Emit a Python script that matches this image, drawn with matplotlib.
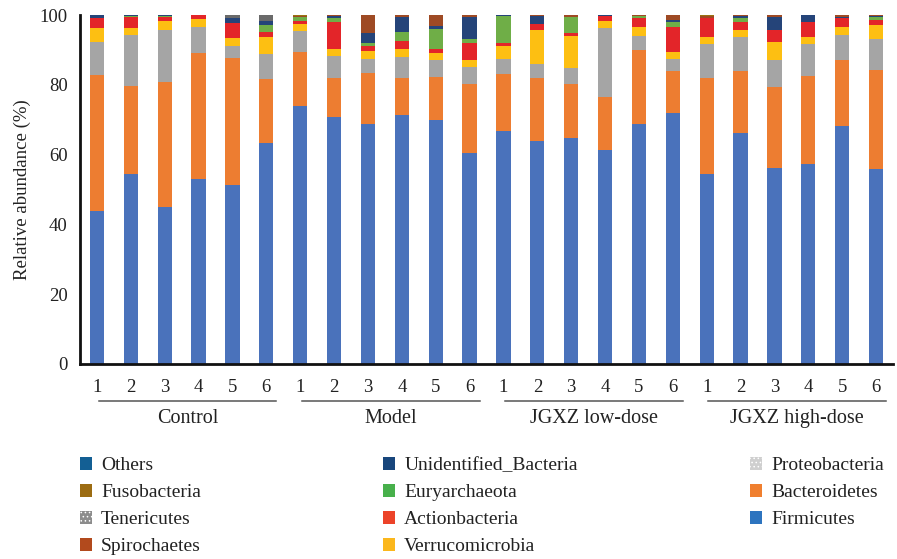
import matplotlib
matplotlib.use("Agg")
import matplotlib.pyplot as plt
from matplotlib.patches import Patch
from matplotlib.transforms import blended_transform_factory
import numpy as np

plt.rcParams["font.family"] = ["Liberation Serif", "DejaVu Serif"]
plt.rcParams["hatch.linewidth"] = 0.6

groups = ["Control", "Model", "JGXZ low-dose", "JGXZ high-dose"]
samples = ["1", "2", "3", "4", "5", "6"]

# relative abundance (%) per phylum, 24 samples (6 per group)
firmicutes = [43.8, 54.4, 45.1, 52.9, 51.3, 63.2,
              74.0, 70.8, 68.8, 71.3, 70.0, 60.5,
              66.8, 63.9, 64.8, 61.3, 68.8, 72.0,
              54.5, 66.1, 56.1, 57.4, 68.1, 55.9]
bacteroidetes = [39.0, 25.3, 35.8, 36.3, 36.3, 18.5,
                 15.3, 11.1, 14.7, 10.6, 12.3, 19.6,
                 16.3, 18.0, 15.4, 15.1, 21.2, 12.0,
                 27.5, 17.9, 23.2, 25.2, 18.9, 28.3]
proteobacteria = [9.6, 14.6, 14.8, 7.3, 3.6, 7.0,
                  6.2, 6.4, 3.9, 6.0, 4.7, 4.9,
                  4.2, 4.1, 4.5, 19.8, 4.1, 3.4,
                  9.7, 9.8, 7.8, 9.1, 7.3, 8.9]
verrucomicrobia = [4.0, 2.1, 2.7, 2.3, 2.1, 4.9,
                   1.8, 2.0, 2.4, 2.4, 2.0, 2.0,
                   3.8, 9.7, 9.3, 2.1, 2.6, 2.1,
                   1.9, 1.9, 5.3, 2.1, 2.2, 4.0]
actionbacteria = [2.8, 3.1, 0.9, 1.2, 4.3, 1.5,
                  1.1, 7.8, 1.4, 2.3, 1.4, 5.1,
                  0.8, 1.6, 0.8, 1.4, 2.3, 7.0,
                  5.6, 2.4, 3.3, 4.1, 2.7, 1.5]
euryarchaeota = [0.0, 0.2, 0.3, 0.0, 0.0, 2.0,
                 0.9, 1.1, 0.9, 2.5, 5.7, 0.9,
                 7.8, 0.0, 4.7, 0.0, 0.6, 1.6,
                 0.0, 0.9, 0.0, 0.0, 0.0, 0.9]
unidentified = [0.8, 0.3, 0.4, 0.0, 1.4, 1.3,
                0.2, 0.6, 2.7, 4.4, 0.7, 6.5,
                0.2, 2.5, 0.0, 0.3, 0.2, 0.5,
                0.0, 0.7, 3.8, 2.1, 0.3, 0.3]
spirochaetes = [0.0, 0.0, 0.0, 0.0, 0.0, 0.0,
                0.3, 0.2, 5.2, 0.5, 3.2, 0.5,
                0.1, 0.2, 0.5, 0.0, 0.2, 1.4,
                0.5, 0.3, 0.5, 0.0, 0.5, 0.2]
tenericutes = [0.0, 0.0, 0.0, 0.0, 1.0, 1.6,
               0.0, 0.0, 0.0, 0.0, 0.0, 0.0,
               0.0, 0.0, 0.0, 0.0, 0.0, 0.0,
               0.0, 0.0, 0.0, 0.0, 0.0, 0.0]
fusobacteria = [0.0, 0.0, 0.0, 0.0, 0.0, 0.0,
                0.2, 0.0, 0.0, 0.0, 0.0, 0.0,
                0.0, 0.0, 0.0, 0.0, 0.0, 0.0,
                0.3, 0.0, 0.0, 0.0, 0.0, 0.0]
others = [0.0] * 24

# bottom -> top
layers = [
    ("Firmicutes", firmicutes, "#4a72bb"),
    ("Bacteroidetes", bacteroidetes, "#ed7d31"),
    ("Proteobacteria", proteobacteria, "#a5a5a5"),
    ("Verrucomicrobia", verrucomicrobia, "#fdbf12"),
    ("Actionbacteria", actionbacteria, "#e32529"),
    ("Euryarchaeota", euryarchaeota, "#6fae47"),
    ("Unidentified_Bacteria", unidentified, "#254479"),
    ("Spirochaetes", spirochaetes, "#9e4a24"),
    ("Tenericutes", tenericutes, "#6a6a6a"),
    ("Fusobacteria", fusobacteria, "#9a7312"),
    ("Others", others, "#1f6797"),
]
legend_look = {
    "Firmicutes": ("#2d74bf", None),
    "Bacteroidetes": ("#f07f2f", None),
    "Proteobacteria": ("#cfcfcf", "...."),
    "Verrucomicrobia": ("#fbb71c", None),
    "Actionbacteria": ("#ec4329", None),
    "Euryarchaeota": ("#47b04b", None),
    "Unidentified_Bacteria": ("#18467c", None),
    "Spirochaetes": ("#b24a1d", None),
    "Tenericutes": ("#8c8c8c", "...."),
    "Fusobacteria": ("#9c6c12", None),
    "Others": ("#135f94", None),
}

fig = plt.figure(figsize=(8.97, 5.59), dpi=100)
ax = fig.add_axes([80 / 897, 1 - 364 / 559, 813 / 897, 349 / 559])

x = np.arange(len(firmicutes))
bottom = np.zeros(len(x))
for name, vals, color in layers:
    vals = np.array(vals)
    ax.bar(x, vals, width=0.42, bottom=bottom, color=color,
           edgecolor="none", label=name)
    bottom += vals

ax.set_xlim(-0.5, 23.5)
ax.set_ylim(0, 100)
ax.set_yticks(range(0, 101, 20))
ax.set_xticks(x)
ax.set_xticklabels(samples * 4)
ax.tick_params(axis="both", length=0, labelsize=13.5, colors="#222222")
ax.tick_params(axis="x", pad=11)
ax.tick_params(axis="y", pad=9)
for s in ["top", "right"]:
    ax.spines[s].set_visible(False)
for s in ["left", "bottom"]:
    ax.spines[s].set_linewidth(2)
    ax.spines[s].set_color("#111111")
ax.set_ylabel("Relative abundance (%)", fontsize=13.5, labelpad=6, color="#222222")

trans = blended_transform_factory(ax.transData, ax.transAxes)
for g, name in enumerate(groups):
    x0 = g * 6 + 0.05
    x1 = g * 6 + 5.3
    ax.plot([x0, x1], [-0.105, -0.105], transform=trans, color="#555555",
            lw=1.1, clip_on=False)
    ax.text((x0 + x1) / 2, -0.157, name, transform=trans, ha="center",
            va="center", fontsize=14.5, color="#222222")

columns = [
    (["Others", "Fusobacteria", "Tenericutes", "Spirochaetes"], 72 / 897),
    (["Unidentified_Bacteria", "Euryarchaeota", "Actionbacteria",
      "Verrucomicrobia"], 375 / 897),
    (["Proteobacteria", "Bacteroidetes", "Firmicutes"], 742 / 897),
]
for names, xpos in columns:
    handles = []
    for n in names:
        c, h = legend_look[n]
        handles.append(Patch(facecolor=c, hatch=h,
                             edgecolor="none" if h is None else "#ffffff",
                             linewidth=0))
    leg = fig.legend(handles, names, loc="upper left",
                     bbox_to_anchor=(xpos, 1 - 449 / 559), frameon=False,
                     fontsize=14, handlelength=0.65, handleheight=0.65,
                     handletextpad=0.45, labelspacing=0.5, borderaxespad=0)
    for t in leg.get_texts():
        t.set_color("#222222")

fig.savefig("out.png", dpi=100)
